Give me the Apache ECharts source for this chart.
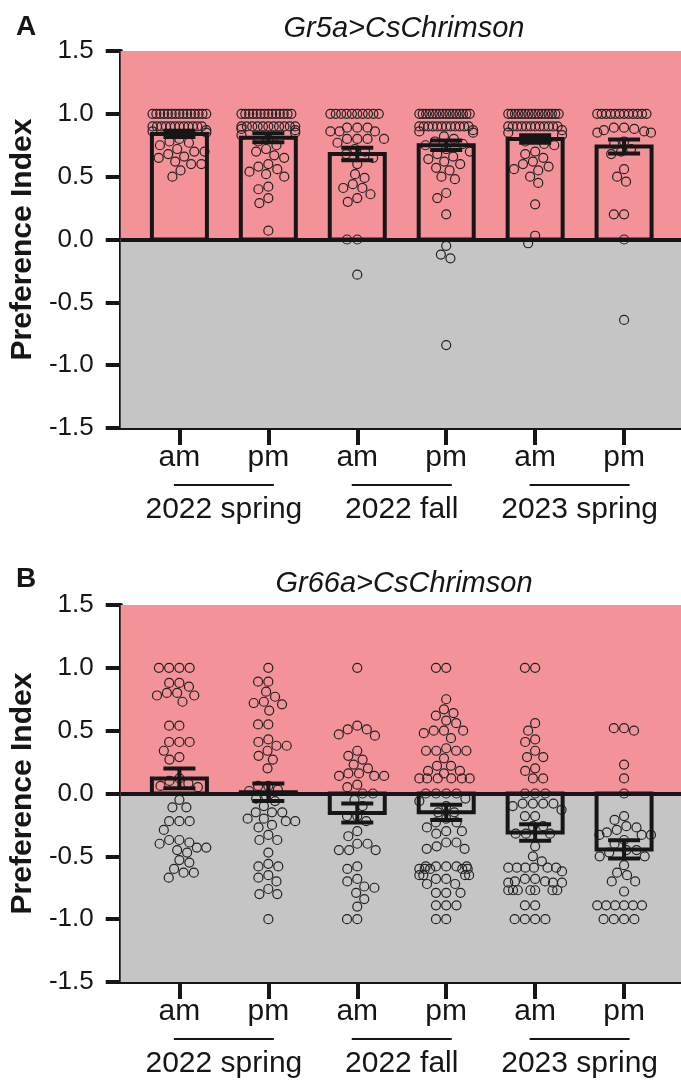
<!DOCTYPE html>
<html><head><meta charset="utf-8">
<script src="https://cdn.jsdelivr.net/npm/echarts@6/dist/echarts.min.js"></script>
<style>html,body{margin:0;padding:0;background:#fff}#c{width:681px;height:1081px}</style>
</head><body><div id="c"></div>
<script>
// ---------- data ----------
const slots = ['am', 'pm', 'am', 'pm', 'am', 'pm'];
const groups = ['2022 spring', '2022 fall', '2023 spring'];
const titleA = 'Gr5a>CsChrimson';
const titleB = 'Gr66a>CsChrimson';
const yName = 'Preference Index';

const meanA = [0.84, 0.81, 0.68, 0.75, 0.80, 0.74];
const semA  = [0.025, 0.036, 0.05, 0.037, 0.03, 0.055];
const meanB = [0.12, 0.01, -0.155, -0.15, -0.31, -0.445];
const semB  = [0.078, 0.07, 0.075, 0.06, 0.065, 0.073];

const a1 = [1,1,1,1,1,1,1,1,1,1,1,1,1,1,1, 0.9,0.9,0.9,0.9,0.9,0.9,0.9,0.9,0.9,0.9,0.9,0.9,
  0.87,0.86,0.85,0.8,0.78,0.77,0.75,0.72,0.7,0.7,0.68,0.66,0.65,0.62,0.6,0.6,0.55,0.5];
const a2 = [1,1,1,1,1,1,1,1,1,1,1,1,1,1, 0.9,0.9,0.9,0.9,0.9,0.9,0.9,0.9,0.9,0.9,0.9,
  0.88,0.87,0.85,0.83,0.8,0.78,0.75,0.72,0.7,0.67,0.65,0.6,0.58,0.56,0.54,0.52,0.5,0.42,0.4,0.33,0.29,0.07];
const a3 = [1,1,1,1,1,1,1,1,1,1, 0.89,0.89,0.89,0.86,0.86,0.86,0.8,0.8,0.8,0.8,0.77,0.72,0.7,0.68,0.65,0.6,
  0.52,0.49,0.44,0.41,0.41,0.36,0.33,0.3,0,0,-0.28];
const a4 = [1,1,1,1,1,1,1,1,1,1,1,1,1,1,1,1, 0.9,0.9,0.9,0.9,0.9,0.9,0.9,0.9,0.9,0.9,0.9,0.9,
  0.87,0.86,0.85,0.82,0.8,0.78,0.76,0.75,0.72,0.7,0.68,0.66,0.64,0.62,0.6,0.57,0.55,0.5,0.48,0.37,0.33,0.2,
  -0.05,-0.12,-0.15,-0.84];
const a5 = [1,1,1,1,1,1,1,1,1,1,1,1,1,1,1,1, 0.9,0.9,0.9,0.9,0.9,0.9,0.9,0.9,0.9,0.9,0.9,0.9,
  0.87,0.85,0.83,0.8,0.78,0.76,0.75,0.7,0.68,0.65,0.62,0.6,0.58,0.56,0.55,0.5,0.45,0.28,0.03,-0.03];
const a6 = [1,1,1,1,1,1,1,1,1,1,1,1, 0.89,0.89,0.88,0.87,0.86,0.85,0.85,0.78,0.76,0.72,0.7,0.68,
  0.56,0.5,0.46,0.2,0.2,0,-0.64];

const b1 = [1,1,1,1, 0.88,0.88,0.85,0.8,0.8,0.78,0.78,0.73, 0.54,0.54, 0.41,0.41,0.41, 0.34,0.29,0.27,
  0.12,0.1,0.08,0.06,0.05, -0.05,-0.11,-0.11,-0.22,-0.22,-0.22,-0.29,-0.37,-0.37,-0.39,-0.4,-0.43,-0.43,
  -0.45,-0.47,-0.53,-0.55,-0.6,-0.63,-0.63,-0.67];
const b2 = [1, 0.89,0.89,0.81,0.77,0.73,0.72,0.71,0.66, 0.55,0.55,0.43,0.41,0.38,0.38,0.34,0.3,0.27,0.2,
  0.06,0.06,0.03,0.02,-0.02,-0.04,-0.06,-0.1,-0.15,-0.15,-0.15,-0.2,-0.2,-0.22,-0.22,-0.25,-0.27,-0.33,
  -0.37,-0.37,-0.47,-0.56,-0.58,-0.58,-0.65,-0.67,-0.7,-0.76,-0.8,-0.8,-1];
const b3 = [1, 0.54,0.51,0.51,0.47,0.46,0.34,0.3,0.27,0.23,0.2,0.16,0.16,0.14,0.14,0.14,0.07,0.05,0,0,
  -0.05,-0.1,-0.18,-0.18,-0.22,-0.3,-0.34,-0.4,-0.4,-0.45,-0.45,-0.45,-0.58,-0.6,-0.68,-0.7,-0.74,-0.75,
  -0.79,-0.84,-0.9,-1,-1];
const b4 = [1,1,0.75,0.67,0.64,0.62,0.58,0.56,0.5,0.5,0.5,0.48,0.44,0.36,0.34,0.34,0.34,0.34,0.28,0.22,0.22,
  0.18,0.18,0.16,0.12,0.12,0.12,0.12,0.12,0.12, 0,0,0,0,
  -0.04,-0.06,-0.1,-0.15,-0.15,-0.2,-0.23,-0.23,-0.27,-0.3,-0.3,-0.32,-0.39,-0.39,-0.42,-0.44,-0.44,
  -0.58,-0.58,-0.58,-0.58,-0.58,-0.6,-0.6,-0.6,-0.6,-0.6,-0.65,-0.65,-0.65,-0.65,-0.68,-0.68,-0.72,-0.72,
  -0.79,-0.79,-0.79,-0.89,-0.89,-0.89,-1,-1];
const b5 = [1,1,0.56,0.5,0.43,0.41,0.34,0.29,0.29,0.2,0.18,0.12,0.12, 0,0,0,
  -0.08,-0.08,-0.08,-0.08,-0.1,-0.13,-0.18,-0.18,-0.26,-0.26,-0.32,-0.32,-0.32,-0.42,-0.5,-0.54,
  -0.59,-0.59,-0.59,-0.59,-0.59,-0.59,-0.62,-0.68,-0.68,-0.7,-0.7,-0.71,-0.71,-0.71,
  -0.77,-0.77,-0.77,-0.77,-0.77,-0.77,-0.77,-0.89,-0.89,-1,-1,-1,-1];
const b6 = [0.52,0.52,0.5,0.23,0.12,0,
  -0.18,-0.21,-0.26,-0.27,-0.29,-0.31,-0.33,-0.33,-0.33,-0.37,-0.4,-0.45,-0.45,-0.47,-0.5,-0.5,
  -0.57,-0.63,-0.65,-0.7,-0.7,-0.78,-0.89,-0.89,-0.89,-0.89,-0.89,-0.89,-1,-1,-1,-1];

const pointsA = [a1, a2, a3, a4, a5, a6];
const pointsB = [b1, b2, b3, b4, b5, b6];

// ---------- layout settings ----------
const X_MIN = -0.66, X_MAX = 5.64;
const GRID_LEFT = 118, GRID_H = 377;
const FONT = '"Liberation Sans", Arial, Helvetica, sans-serif';
const INK = '#161616';
const PINK = '#F39298', GREY = '#C5C5C5';

const chart = echarts.init(document.getElementById('c'), null, {renderer: 'canvas'});
const pxX = (chart.getWidth() - GRID_LEFT) / (X_MAX - X_MIN);
const pxY = GRID_H / 3;

// beeswarm horizontal offsets (in px) computed from the values
function swarm(values, d, maxHalf) {
  const order = values.map((v, i) => i).sort((a, b) => values[b] - values[a] || a - b);
  const placed = [];
  const xs = new Array(values.length).fill(0);
  for (const i of order) {
    const y = values[i] * pxY;
    const near = placed.filter(p => Math.abs(p.y - y) < d);
    const cands = [0];
    near.forEach(p => {
      const dx = Math.sqrt(d * d - (p.y - y) * (p.y - y));
      cands.push(p.x + dx, p.x - dx);
    });
    cands.sort((a, b) => Math.abs(a) - Math.abs(b) || a - b);
    const best = cands.find(c => near.every(p => (p.x - c) ** 2 + (p.y - y) ** 2 >= d * d - 1e-6));
    placed.push({x: best, y, v: values[i], i});
    xs[i] = best;
  }
  const byVal = {};
  placed.forEach(p => { (byVal[p.v] = byVal[p.v] || []).push(p); });
  Object.values(byVal).forEach(g => {
    const ext = Math.max(...g.map(p => Math.abs(p.x)));
    if (ext > maxHalf) g.forEach(p => { xs[p.i] = p.x * maxHalf / ext; });
  });
  return xs.map(x => Math.abs(x) > maxHalf ? Math.sign(x) * (maxHalf + (Math.abs(x) - maxHalf) * 0.35) : x);
}

function scatterData(groupsPts) {
  const out = [];
  groupsPts.forEach((vals, i) => {
    const xs = swarm(vals, 10.3, 27);
    vals.forEach((v, k) => out.push([i + xs[k] / pxX, v]));
  });
  return out;
}

function renderBar(params, api) {
  const x = api.value(0), m = api.value(1);
  const p0 = api.coord([x, 0]), p1 = api.coord([x, m]);
  const w = 55;
  return {
    type: 'rect',
    shape: {x: p0[0] - w / 2, y: Math.min(p0[1], p1[1]), width: w, height: Math.abs(p1[1] - p0[1])},
    style: {fill: 'none', stroke: INK, lineWidth: 4}
  };
}
function renderErr(params, api) {
  const x = api.value(0), m = api.value(1), s = api.value(2);
  const t = api.coord([x, m + s]), b = api.coord([x, m - s]);
  const cw = 16;
  const st = {stroke: INK, lineWidth: 4};
  return {
    type: 'group',
    children: [
      {type: 'line', shape: {x1: t[0], y1: t[1], x2: b[0], y2: b[1]}, style: st},
      {type: 'line', shape: {x1: t[0] - cw, y1: t[1], x2: t[0] + cw, y2: t[1]}, style: st},
      {type: 'line', shape: {x1: b[0] - cw, y1: b[1], x2: b[0] + cw, y2: b[1]}, style: st}
    ]
  };
}

function panelAxes(gi) {
  const xAxes = [
    {
      type: 'value', gridIndex: gi, min: X_MIN, max: X_MAX, position: 'bottom',
      splitLine: {show: false},
      axisLine: {show: true, onZero: false, lineStyle: {color: INK, width: 4}},
      axisTick: {show: true, customValues: [0, 1, 2, 3, 4, 5], length: 17, lineStyle: {color: INK, width: 4}},
      axisLabel: {customValues: [0, 1, 2, 3, 4, 5], formatter: v => slots[Math.round(v)],
        fontSize: 30, fontFamily: FONT, color: INK, margin: 15}
    },
    {
      type: 'value', gridIndex: gi, min: X_MIN, max: X_MAX, position: 'bottom',
      splitLine: {show: false}, axisLine: {show: false, onZero: false}, axisTick: {show: false},
      axisLabel: {customValues: [0.5, 2.5, 4.5],
        formatter: v => '{line| }\n{txt|' + groups[Math.round((v - 0.5) / 2)] + '}',
        margin: 56, color: INK, fontFamily: FONT,
        rich: {
          line: {width: 100, height: 2, lineHeight: 2, fontSize: 1, backgroundColor: INK},
          txt: {fontSize: 30, lineHeight: 48, fontFamily: FONT, color: INK}
        }}
    }
  ];
  const yAxis = {
    type: 'value', gridIndex: gi, min: -1.5, max: 1.5, interval: 0.5,
    name: yName, nameLocation: 'middle', nameGap: 80,
    nameTextStyle: {fontSize: 30, fontWeight: 'bold', fontFamily: FONT, color: INK},
    splitLine: {show: false},
    axisLine: {show: true, onZero: false, lineStyle: {color: INK, width: 4}},
    axisTick: {show: true, length: 15, lineStyle: {color: INK, width: 4}},
    axisLabel: {formatter: v => v.toFixed(1), fontSize: 26, fontFamily: FONT, color: INK, margin: 27}
  };
  return {xAxes, yAxis};
}

function panelSeries(gi, pts, means, sems) {
  const xi = gi * 2, yi = gi;
  return [
    {
      type: 'line', xAxisIndex: xi, yAxisIndex: yi, data: [], z: 1, silent: true,
      markArea: {silent: true, data: [
        [{yAxis: 0, itemStyle: {color: PINK}}, {yAxis: 1.5}],
        [{yAxis: -1.5, itemStyle: {color: GREY}}, {yAxis: 0}]
      ]}
    },
    {
      type: 'scatter', xAxisIndex: xi, yAxisIndex: yi, z: 3, silent: true,
      symbol: 'circle', symbolSize: 9,
      itemStyle: {color: 'rgba(0,0,0,0)', borderColor: '#222', borderWidth: 1.2, opacity: 1},
      data: scatterData(pts)
    },
    {
      type: 'custom', xAxisIndex: xi, yAxisIndex: yi, z: 4, silent: true,
      renderItem: renderBar, data: means.map((m, i) => [i, m])
    },
    {
      type: 'custom', xAxisIndex: xi, yAxisIndex: yi, z: 5, silent: true,
      renderItem: renderErr, data: means.map((m, i) => [i, m, sems[i]])
    },
    {
      type: 'line', xAxisIndex: xi, yAxisIndex: yi, data: [], z: 6, silent: true,
      markLine: {silent: true, symbol: ['none', 'none'], label: {show: false},
        lineStyle: {color: INK, width: 4, type: 'solid'}, data: [{yAxis: 0}]}
    }
  ];
}

const pA = panelAxes(0), pB = panelAxes(1);

const option = {
  animation: false,
  backgroundColor: '#fff',
  title: [
    {text: 'A', left: 11, top: 8, textStyle: {fontSize: 28, fontWeight: 'bold', fontFamily: FONT, color: INK}},
    {text: titleA, left: 399, top: 9, textAlign: 'center',
      textStyle: {fontSize: 29, fontStyle: 'italic', fontWeight: 'normal', fontFamily: FONT, color: INK}},
    {text: 'B', left: 11, top: 560, textStyle: {fontSize: 28, fontWeight: 'bold', fontFamily: FONT, color: INK}},
    {text: titleB, left: 399, top: 564, textAlign: 'center',
      textStyle: {fontSize: 29, fontStyle: 'italic', fontWeight: 'normal', fontFamily: FONT, color: INK}}
  ],
  grid: [
    {left: GRID_LEFT, right: 0, top: 51, height: GRID_H},
    {left: GRID_LEFT, right: 0, top: 605, height: GRID_H}
  ],
  xAxis: [...pA.xAxes, ...pB.xAxes],
  yAxis: [pA.yAxis, pB.yAxis],
  series: [...panelSeries(0, pointsA, meanA, semA), ...panelSeries(1, pointsB, meanB, semB)]
};
chart.setOption(option);
</script>
</body></html>
